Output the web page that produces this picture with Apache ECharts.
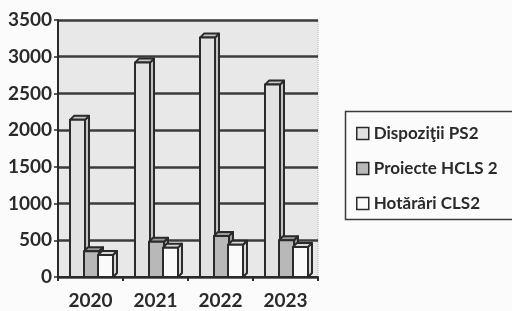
<!DOCTYPE html>
<html>
<head>
<meta charset="utf-8">
<script src="https://cdn.jsdelivr.net/npm/echarts@6/dist/echarts.min.js"></script>
<style>
  html, body { margin: 0; padding: 0; background: #fbfbfb; }
  #chart { width: 512px; height: 311px; }
</style>
</head>
<body>
<div id="chart"></div>
<script>
var years = ['2020', '2021', '2022', '2023'];
var dispozitii = [2140, 2920, 3260, 2620];
var proiecte = [350, 480, 560, 500];
var hotarari = [300, 400, 440, 410];
var names = ['Dispoziţii PS2', 'Proiecte HCLS 2', 'Hotărâri CLS2'];

var fills = ['#e2e2e2', '#b8b8b8', '#fafafa'];
var sides = ['#c4c4c4', '#9a9a9a', '#d8d8d8'];
var offsets = [-13, 1, 15];

var chart = echarts.init(document.getElementById('chart'), null, {renderer: 'canvas'});

// draws a 3d looking box for one bar
function box(idx) {
    return function (params, api) {
        var top = api.coord([api.value(0), api.value(1)]);
        var base = api.coord([api.value(0), 0]);
        var bw = 15, d = 4;
        var x0 = top[0] + offsets[idx] - bw / 2, x1 = x0 + bw;
        var y0 = top[1], y1 = base[1];
        var st = {stroke: '#2a2a2a', lineWidth: 2, lineJoin: 'round'};
        return {
            type: 'group',
            children: [
                {type: 'polygon', shape: {points: [[x1, y0], [x1 + d, y0 - d], [x1 + d, y1 - d], [x1, y1]]},
                 style: Object.assign({fill: sides[idx]}, st)},
                {type: 'polygon', shape: {points: [[x0, y0], [x0 + d, y0 - d], [x1 + d, y0 - d], [x1, y0]]},
                 style: Object.assign({fill: sides[idx]}, st)},
                {type: 'rect', shape: {x: x0, y: y0, width: bw, height: y1 - y0},
                 style: Object.assign({fill: fills[idx]}, st)}
            ]
        };
    };
}

function mk(name, data, idx) {
    return {
        type: 'custom',
        name: name,
        renderItem: box(idx),
        itemStyle: {color: fills[idx]},
        encode: {x: 0, y: 1},
        data: data.map(function (v, i) { return [i, v]; }),
        z: 3 + idx
    };
}

var labelFont = {fontFamily: 'Lato', fontWeight: 'bold', fontSize: 19, color: '#2a2a2a'};

chart.setOption({
    animation: false,
    grid: {left: 58, right: 194, top: 20, bottom: 34, show: true,
           backgroundColor: '#e8e8e8', borderColor: '#b5b5b5', borderWidth: 1, borderType: 'dotted'},
    xAxis: {
        type: 'category',
        data: years,
        axisLine: {lineStyle: {color: '#2a2a2a', width: 2}},
        axisTick: {show: true, length: 4, lineStyle: {color: '#2a2a2a', width: 2}},
        axisLabel: Object.assign({margin: 14}, labelFont)
    },
    yAxis: {
        type: 'value',
        min: 0, max: 3500, interval: 500,
        axisLine: {show: true, lineStyle: {color: '#2a2a2a', width: 2}},
        axisTick: {show: true, length: 4, lineStyle: {color: '#2a2a2a', width: 1.5}},
        splitLine: {lineStyle: {color: '#3c3c3c', width: 2.5}},
        axisLabel: Object.assign({margin: 6, formatter: function (v) { return String(v); }}, labelFont)
    },
    legend: {
        orient: 'vertical',
        left: 351, top: 120,
        itemWidth: 12, itemHeight: 12,
        itemGap: 18,
        icon: 'rect',
        data: names.map(function (n, i) {
            return {name: n, itemStyle: {color: fills[i], borderColor: '#2a2a2a', borderWidth: 1.5}};
        }),
        textStyle: {fontFamily: 'Lato', fontWeight: 'bold', fontSize: 17, color: '#2a2a2a'}
    },
    graphic: [{
        type: 'rect', left: 343, top: 109,
        shape: {width: 180, height: 108},
        style: {fill: 'none', stroke: '#3a3a3a', lineWidth: 1.5}
    }],
    series: [
        mk(names[0], dispozitii, 0),
        mk(names[1], proiecte, 1),
        mk(names[2], hotarari, 2)
    ]
});
</script>
</body>
</html>
